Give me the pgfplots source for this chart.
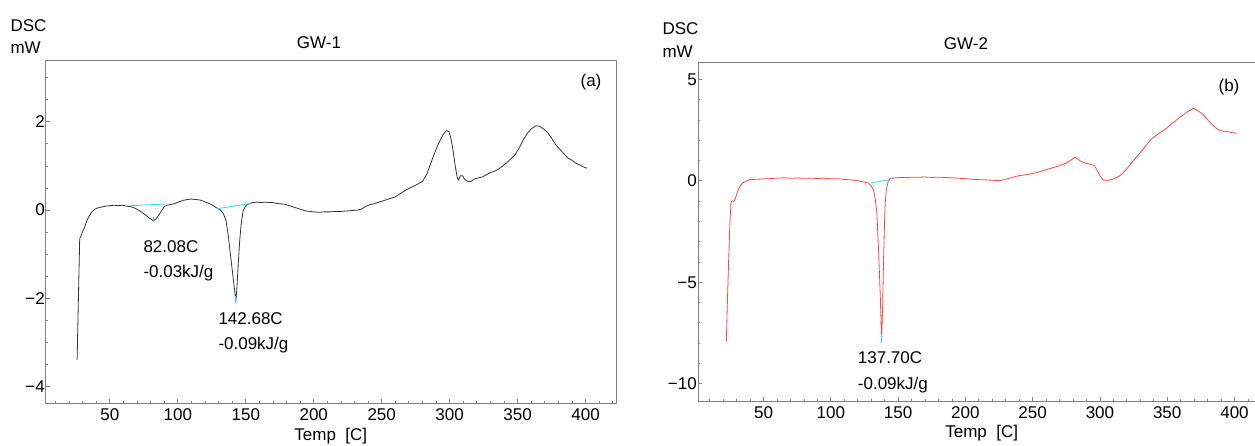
\documentclass[border=0pt]{standalone}
\usepackage{fontspec}
\setmainfont{Liberation Sans}
\usepackage{pgfplots}
\pgfplotsset{compat=1.18}
\definecolor{dsccyan}{RGB}{40,225,230}
\definecolor{dscred}{RGB}{255,70,70}
\definecolor{dscframe}{RGB}{128,128,128}

\pgfplotsset{
  dsc/.style={
    scale only axis,
    anchor=south west,
    axis line style={dscframe, line width=1pt},
    tick style={dscframe, line width=0.8pt},
    tick align=inside,
    xtick pos=bottom, ytick pos=left,
    major tick length=4pt, minor tick length=2pt,
    tick label style={font=\fontsize{17}{20}\selectfont},
    xticklabel style={inner sep=0pt, anchor=north, yshift=-5pt},
    yticklabel style={inner sep=0pt, anchor=east, xshift=-1pt},
    /pgf/number format/assume math mode=true,
    xtick={50,100,...,400},
    xticklabels={50,100,150,200,250,300,350,400},
    minor xtick={10,20,...,420},
    clip=true,
  }
}

\begin{document}
\fontsize{17}{20}\selectfont
\begin{tikzpicture}
\useasboundingbox (0pt,0pt) rectangle (1255pt,445pt);

% ---------- (a) GW-1 ----------
\begin{axis}[dsc,
  at={(46pt,42pt)}, width=570pt, height=343pt,
  xmin=3, xmax=422.4, ymin=-4.37, ymax=3.4,
  ytick={-4,-2,0,2}, yticklabels={−4,−2,0,2},
  minor ytick={-4.5,-3.5,-3,-2.5,-1.5,-1,-0.5,0.5,1,1.5,2.5,3},
]
\addplot[black!80, line width=0.8pt] coordinates {
(25.9,-3.39) (26.5,-2.5) (27.2,-1.5) (27.8,-0.65) (28.8,-0.58) (30.0,-0.48)
(31.5,-0.38) (33.0,-0.24) (35.0,-0.12) (37.0,-0.03) (39.0,0.02) (41.0,0.05)
(44.0,0.07) (47.0,0.09) (50.0,0.10) (53.0,0.11) (56.0,0.10) (59.0,0.11)
(62.0,0.09) (65.0,0.08) (68.0,0.05) (71.0,0.00) (74.0,-0.06) (77.0,-0.13)
(79.5,-0.19) (82.1,-0.24) (84.0,-0.20) (86.0,-0.11) (88.0,-0.02) (90.0,0.08)
(92.0,0.11) (95.0,0.13) (98.0,0.15) (101.0,0.19) (104.0,0.22) (107.0,0.24)
(110.0,0.25) (113.0,0.24) (116.0,0.23) (119.0,0.20) (122.0,0.16) (125.0,0.12)
(128.0,0.06) (131.0,0.01) (133.5,-0.08) (135.5,-0.25) (137.0,-0.55) (138.5,-0.95)
(140.0,-1.35) (141.5,-1.75) (142.7,-2.05) (143.5,-1.75) (144.5,-1.2) (145.5,-0.7)
(146.5,-0.35) (148.0,-0.02) (150.0,0.10) (152.0,0.14) (155.0,0.17) (158.0,0.18)
(161,0.17) (164,0.18) (167,0.17) (170,0.17) (173,0.15) (176,0.14) (179,0.13)
(182,0.10) (185,0.07) (188,0.04) (191,0.01) (194,-0.02) (197,-0.03) (200,-0.04)
(204,-0.05) (208,-0.04) (212,-0.04) (216,-0.03) (220,-0.03) (224,-0.02)
(228,-0.01) (232,0.00) (235,0.02) (238,0.08) (241,0.12) (244,0.14) (248,0.18)
(252,0.22) (256,0.26) (260,0.30) (264,0.38) (268,0.46) (272,0.52) (276,0.58)
(280,0.65) (283,0.80) (286,1.05) (289,1.30) (292,1.52) (295,1.70) (297.5,1.80)
(299.5,1.78) (301,1.62) (302.5,1.35) (304,1.02) (305.5,0.75) (306.5,0.68)
(308,0.78) (309.5,0.78) (311,0.70) (313,0.66) (315,0.64) (318,0.70) (321,0.73)
(324,0.75) (327,0.80) (330,0.85) (333,0.88) (336,0.93) (339,1.00) (342,1.07)
(345,1.16) (348,1.25) (351,1.40) (354,1.58) (357,1.73) (360,1.84) (363.5,1.91)
(366,1.90) (369,1.84) (372,1.76) (375,1.63) (378,1.48) (381,1.38) (384,1.28)
(387,1.18) (390,1.13) (393,1.06) (396,1.02) (399,0.97) (401,0.95)
};
\addplot[dsccyan, line width=0.8pt] coordinates {(65,0.10) (92,0.14)};
\addplot[dsccyan, line width=0.8pt] coordinates {(82.1,-0.16) (82.1,-0.28)};
\addplot[dsccyan, line width=0.8pt] coordinates {(128.8,0.03) (153.3,0.15)};
\addplot[dsccyan, line width=0.8pt] coordinates {(142.7,-1.95) (142.7,-2.08)};
\end{axis}

% ---------- (b) GW-2 ----------
\begin{axis}[dsc,
  at={(698pt,44pt)}, width=558pt, height=339pt,
  xmin=1.26, xmax=416, ymin=-10.85, ymax=5.86,
  ytick={-10,-5,0,5}, yticklabels={−10,−5,0,5},
  minor ytick={-10,-9,...,5},
]
\addplot[dscred, line width=0.8pt] coordinates {
(22.3,-7.93) (23.0,-6.2) (24.0,-4.0) (25.0,-2.0) (25.8,-1.05) (27.0,-0.98)
(28.0,-1.02) (29.0,-0.88) (30.5,-0.55) (32.0,-0.32) (33.5,-0.18) (35.0,-0.08)
(37.5,0.00) (40.0,0.06) (45,0.08) (50,0.10) (55,0.11) (60,0.14) (65,0.15)
(70,0.13) (75,0.14) (80,0.13) (85,0.13) (90,0.12) (95,0.13) (100,0.10)
(105,0.11) (110,0.07) (115,0.05) (120,0.01) (124,-0.05) (128,-0.11)
(130,-0.25) (131.7,-0.45) (133,-0.90) (134.2,-1.6) (135.5,-3.5) (136.7,-5.6)
(137.7,-7.8) (138.5,-6.2) (139.2,-3.8) (139.9,-2.0) (140.5,-1.0) (141.2,-0.45)
(142.5,-0.05) (144,0.12) (148,0.15) (152,0.17) (156,0.16) (160,0.18) (165,0.18)
(170,0.19) (175,0.17) (180,0.18) (185,0.17) (190,0.15) (195,0.13) (200,0.11)
(205,0.08) (210,0.06) (215,0.05) (220,0.03) (225,0.01) (230,0.08) (235,0.18)
(240,0.26) (245,0.30) (250,0.36) (255,0.45) (260,0.55) (265,0.65) (270,0.75)
(275,0.88) (278,1.00) (281.5,1.17) (284,1.05) (287,0.92) (290,0.86) (293,0.82)
(296,0.75) (298,0.50) (300,0.25) (302.5,0.05) (305,0.02) (308,0.06) (311,0.12)
(314,0.22) (317,0.38) (320,0.60) (323,0.85) (326,1.08) (329,1.32) (332,1.55)
(335,1.80) (338,2.05) (341,2.20) (344,2.35) (347,2.48) (350,2.62) (353,2.80)
(356,2.95) (359,3.12) (362,3.25) (365,3.40) (368,3.52) (369.5,3.58) (371,3.52)
(374,3.40) (377,3.25) (380,3.02) (383,2.80) (386,2.62) (389,2.48) (392,2.45)
(395,2.42) (398,2.38) (401.5,2.35)
};
\addplot[dsccyan, line width=0.8pt] coordinates {(129.3,-0.11) (142.9,0.05)};
\addplot[dsccyan, line width=0.8pt] coordinates {(137.7,-7.6) (137.7,-8.0)};
\end{axis}

% ---------- texts ----------
\node[anchor=base west, inner sep=0pt] at (10.3pt,413.3pt) {DSC};
\node[anchor=base west, inner sep=0pt] at (10.3pt,391pt) {mW};
\node[anchor=base, inner sep=0pt] at (319pt,396.7pt) {GW-1};
\node[anchor=base, inner sep=0pt] at (591pt,358pt) {(a)};
\node[anchor=base west, inner sep=0pt] at (143.3pt,192.3pt) {82.08C};
\node[anchor=base west, inner sep=0pt] at (143.3pt,168pt) {-0.03kJ/g};
\node[anchor=base west, inner sep=0pt] at (218.3pt,121pt) {142.68C};
\node[anchor=base west, inner sep=0pt] at (218.3pt,96pt) {-0.09kJ/g};
\node[anchor=base, inner sep=0pt] at (330.8pt,4.3pt) {Temp\ \ [C]};

\node[anchor=base west, inner sep=0pt] at (662.3pt,410.7pt) {DSC};
\node[anchor=base west, inner sep=0pt] at (662.3pt,387.7pt) {mW};
\node[anchor=base, inner sep=0pt] at (966pt,395.7pt) {GW-2};
\node[anchor=base, inner sep=0pt] at (1229pt,353pt) {(b)};
\node[anchor=base west, inner sep=0pt] at (857.7pt,81.7pt) {137.70C};
\node[anchor=base west, inner sep=0pt] at (857.7pt,56pt) {-0.09kJ/g};
\node[anchor=base, inner sep=0pt] at (981.7pt,7.6pt) {Temp\ \ [C]};
\end{tikzpicture}
\end{document}
